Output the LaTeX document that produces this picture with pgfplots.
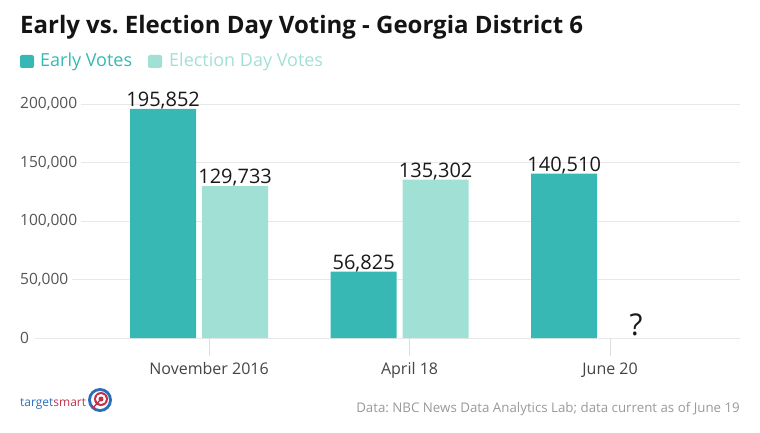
\documentclass[border=0pt]{standalone}
\usepackage{pgfplots}
\pgfplotsset{compat=1.18}
\usepackage{pgfplotstable}
\usepackage{fontspec}
\setmainfont{Open Sans}
\frenchspacing
\definecolor{early}{HTML}{37B8B5}
\definecolor{eday}{HTML}{A1E0D4}
\definecolor{gridc}{HTML}{E8E8E8}
\definecolor{tickc}{HTML}{DDDDDD}
\definecolor{ticklab}{HTML}{555555}
\definecolor{catlab}{HTML}{444444}
\definecolor{foot}{HTML}{999999}
\definecolor{tsblue}{HTML}{2A6EBB}
\definecolor{tsred}{HTML}{C0314A}

\pgfplotstableread{
x early elab
0 195852 195,852
1 56825 56,825
2 140510 140,510
}\earlydata
\pgfplotstableread{
x eday dlab
0 129733 129,733
1 135302 135,302
}\edaydata

\begin{document}
\begin{tikzpicture}[x=1pt,y=1pt]
\path[use as bounding box] (0,0) rectangle (760,432);
% title
\node[anchor=base west, inner sep=0, text=black!92, font=\fontsize{24}{28}\selectfont\bfseries] at (20,398) {Early vs. Election Day Voting - Georgia District 6};
% legend
\fill[early, rounded corners=2pt] (20,364) rectangle (34,377);
\node[anchor=base west, inner sep=0, text=early, font=\fontsize{18}{21}\selectfont] at (40,365) {Early Votes};
\fill[eday, rounded corners=2pt] (148,364) rectangle (162,377);
\node[anchor=base west, inner sep=0, text=eday, font=\fontsize{18}{21}\selectfont] at (169,365) {Election Day Votes};

\begin{axis}[
  at={(35pt,94pt)}, anchor=south west,
  width=705pt, height=234pt, scale only axis,
  xmin=-0.868, xmax=2.648, ymin=0, ymax=200000,
  axis line style={draw=none},
  clip=false,
  ytick={0,50000,100000,150000,200000},
  yticklabels={0,{50,000},{100,000},{150,000},{200,000}},
  ymajorgrids, grid style={gridc, line width=1pt},
  xtick={0,1,2},
  xticklabels={November 2016, April 18, June 20},
  xtick pos=bottom, ytick pos=left,
  tick align=outside, major tick length=18pt,
  tick style={tickc, line width=1pt},
  ytick style={opacity=0},
  scaled y ticks=false,
  yticklabel style={anchor=west, fill=white, inner xsep=4pt, xshift=-1pt, text=ticklab, font=\fontsize{15.5}{18}\selectfont},
  xticklabel style={text=catlab, font=\fontsize{16}{19}\selectfont, yshift=-3pt},
  ybar, bar width=0.329,
  nodes near coords style={font=\fontsize{20}{24}\selectfont, text=black!90, anchor=base, inner sep=0pt, yshift=2.5pt},
]
\addplot[fill=early, draw=none, bar shift=-0.229, point meta=explicit symbolic, nodes near coords]
  table[x=x, y=early, meta=elab] {\earlydata};
\addplot[fill=eday, draw=none, bar shift=0.130, point meta=explicit symbolic, nodes near coords]
  table[x=x, y=eday, meta=dlab] {\edaydata};
\node[anchor=base, inner sep=0, font=\fontsize{30}{34}\selectfont, text=black!90] at (axis cs:2.13,0) [yshift=3pt] {?};
\draw[tickc, line width=1pt] (axis cs:0,0) -- ++(0pt,-18pt);
\draw[tickc, line width=1pt] (axis cs:1,0) -- ++(0pt,-18pt);
\draw[tickc, line width=1pt] (axis cs:2,0) -- ++(0pt,-18pt);
\end{axis}

% footnote
\node[anchor=base east, inner sep=0, text=foot, font=\fontsize{13.3}{16}\selectfont] at (740,20) {Data: NBC News Data Analytics Lab; data current as of June 19};
% logo
\node[anchor=base west, inner sep=0, font=\fontsize{12}{14}\selectfont] at (20,26) {\textcolor{tsblue}{target}\textcolor{tsred}{smart}};
\fill[tsblue] (100,32) circle (12);
\fill[white] (100,32) circle (9);
\fill[tsred] (101,33) circle (7);
\fill[white] (101,33) circle (5);
\fill[tsred] (101,33) circle (2.5);
\draw[tsred, line width=1.3pt] (101,33) -- (93,24);
\fill[tsred] (93,24) -- (91,28) -- (95,25) -- cycle;
\fill[tsred] (93,24) -- (97,22) -- (94,26) -- cycle;
\end{tikzpicture}
\end{document}
